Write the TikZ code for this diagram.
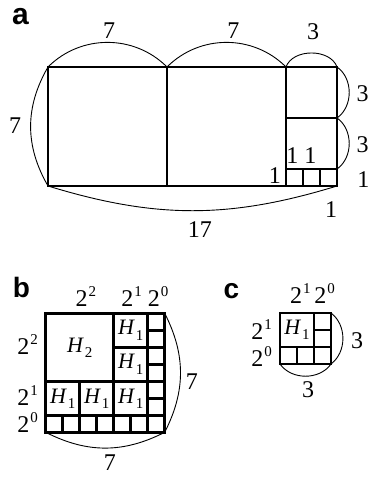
\documentclass[tikz,border=0pt]{standalone}
\usepackage{fontspec}
\setmainfont{Liberation Serif}
\newfontfamily\panelfont{Liberation Sans}
\usepackage{tikz}
\usetikzlibrary{positioning}

\newcommand\powtwo[1]{2\hspace{1pt}\raisebox{10pt}{\fontsize{15}{15}\selectfont #1}}
\newcommand\Hblock[1]{\textit{H}\hspace{1pt}\raisebox{-5pt}{\fontsize{15}{15}\selectfont #1}}

\begin{document}
\begin{tikzpicture}[
  sq/.style={line width=2.8pt},
  hull/.style={line width=0.9pt},
  num/.style={font=\fontsize{24}{24}\selectfont, inner sep=0pt},
  hlab/.style={font=\fontsize{22}{22}\selectfont, inner sep=0pt},
  tag/.style={font=\panelfont\bfseries\fontsize{28}{28}\selectfont, inner sep=0pt}
]
  \useasboundingbox (0,0) rectangle (370pt,478pt);

  % panel letters
  \node[tag, font=\panelfont\bfseries\fontsize{30}{30}\selectfont] (taga) at (20.5pt,461.5pt) {a};
  \node[tag] (tagb) at (21.5pt,191pt) {b};
  \node[tag] (tagc) at (231.5pt,186.5pt) {c};

  % (a) 17 x 7 rectangle
  \begin{scope}[shift={(48pt,292pt)}, x=17pt, y=17pt]
    \draw[sq] (0,0) rectangle (7,7) (7,0) rectangle (14,7)
              (14,4) rectangle (17,7) (14,1) rectangle (17,4);
    \foreach \i in {14,15,16}
      \draw[sq] (\i,0) rectangle ++(1,1);
    \coordinate (anw) at (0,7);
    \coordinate (atop1) at (7,7);
    \coordinate (atop2) at (14,7);
    \coordinate (ane) at (17,7);
    \coordinate (ar1) at (17,4);
    \coordinate (ar2) at (17,1);
    \coordinate (ase) at (17,0);
    \coordinate (asw) at (0,0);
    \draw[hull] (anw) to[bend left=45] (atop1) to[bend left=45] (atop2)
      to[bend left=70] (ane) to[bend left=55] (ar1) to[bend left=55] (ar2);
    \draw[hull] (asw) to[bend left=30] (anw);
    \draw[hull] (ase) to[bend left=17] (asw);
    \node[num] (atop7a) at (3.6,9.15) {7};
    \node[num] (atop7b) at (10.9,9.15) {7};
    \node[num] (atop3) at (15.6,9.1) {3};
    \node[num] (aright3a) at (18.5,5.41) {3};
    \node[num] (aright3b) at (18.5,2.41) {3};
    \node[num] (aright1) at (18.55,0.4) {1};
    \node[num] (aleft1) at (13.35,0.6) {1};
    \node[num] (aone1) at (14.38,1.79) {1};
    \node[num] (aone2) at (15.44,1.79) {1};
    \node[num] (abelow1) at (16.65,-1.38) {1};
    \node[num] (abottom) at (8.94,-2.57) {17};
    \node[num] (aleft7) at (-1.94,3.53) {7};
  \end{scope}

  % (b) 7 x 7 square
  \begin{scope}[shift={(45.7pt,45.7pt)}, x=17pt, y=17pt]
    \draw[sq] (0,3) rectangle (4,7);
    \foreach \y in {3,5}
      \draw[sq] (4,\y) rectangle ++(2,2);
    \foreach \x in {0,2,4}
      \draw[sq] (\x,1) rectangle ++(2,2);
    \foreach \y in {1,...,6}
      \draw[sq] (6,\y) rectangle ++(1,1);
    \foreach \x in {0,...,6}
      \draw[sq] (\x,0) rectangle ++(1,1);
    \coordinate (bne) at (7,7);
    \coordinate (bse) at (7,0);
    \coordinate (bsw) at (0,0);
    \draw[hull] (bne) to[bend left=27] (bse) to[bend left=27] (bsw);
    \node[hlab] (bH2) at (2,5) {\Hblock{2}};
    \foreach \y in {4,6}
      \node[hlab] (bHr\y) at (5,\y) {\Hblock{1}};
    \foreach \x in {1,3,5}
      \node[hlab] (bHb\x) at (\x,2) {\Hblock{1}};
    \node[num] (btop2) at (2.37,7.96) {\powtwo{2}};
    \node[num] (btop1) at (5.05,7.96) {\powtwo{1}};
    \node[num] (btop0) at (6.62,7.96) {\powtwo{0}};
    \node[num, anchor=east] (bleft2) at (-0.45,5.14) {\powtwo{2}};
    \node[num, anchor=east] (bleft1) at (-0.45,2.14) {\powtwo{1}};
    \node[num, anchor=east] (bleft0) at (-0.45,0.55) {\powtwo{0}};
    \node[num] (bright7) at (8.6,2.99) {7};
    \node[num] (bbottom7) at (3.78,-1.78) {7};
  \end{scope}

  % (c) 3 x 3 square
  \begin{scope}[shift={(280pt,114pt)}, x=17pt, y=17pt]
    \draw[sq] (0,1) rectangle (2,3);
    \foreach \y in {1,2}
      \draw[sq] (2,\y) rectangle ++(1,1);
    \foreach \x in {0,1,2}
      \draw[sq] (\x,0) rectangle ++(1,1);
    \coordinate (cne) at (3,3);
    \coordinate (cse) at (3,0);
    \coordinate (csw) at (0,0);
    \draw[hull] (cne) to[bend left=53] (cse) to[bend left=55] (csw);
    \node[hlab] (cH1) at (1,2) {\Hblock{1}};
    \node[num] (ctop1) at (1.2,4.16) {\powtwo{1}};
    \node[num] (ctop0) at (2.62,4.16) {\powtwo{0}};
    \node[num, anchor=east] (cleft1) at (-0.47,2.0) {\powtwo{1}};
    \node[num, anchor=east] (cleft0) at (-0.47,0.44) {\powtwo{0}};
    \node[num] (cright3) at (4.53,1.38) {3};
    \node[num] (cbottom3) at (1.65,-1.5) {3};
  \end{scope}
\end{tikzpicture}
\end{document}
